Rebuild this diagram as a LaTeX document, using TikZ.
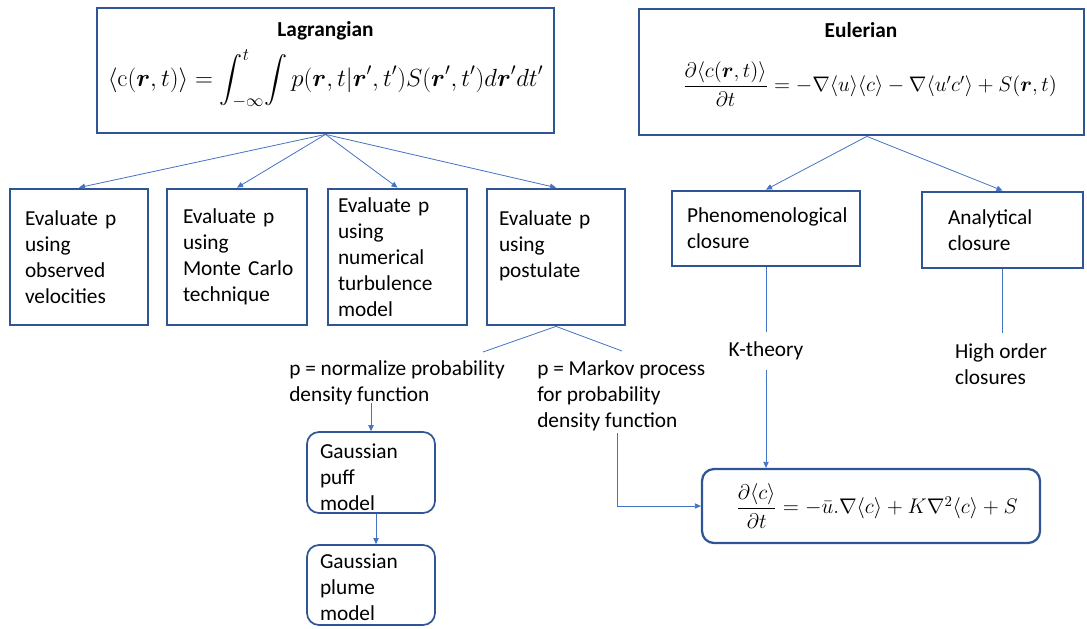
\RequirePackage{fix-cm}
\documentclass[tikz,border=0pt]{standalone}
\usepackage{amsmath}
\usepackage[no-math]{fontspec}
\setmainfont{Carlito}
\usetikzlibrary{arrows.meta,calc}
\definecolor{bordc}{HTML}{2F5597}
\definecolor{linec}{HTML}{4472C4}
\begin{document}
\begin{tikzpicture}[x=0.75pt,y=-0.75pt,
  font=\fontsize{16}{19.5}\selectfont,
  boxst/.style={draw=bordc, line width=2.1pt, inner ysep=0pt, align=left},
  rbox/.style={draw=bordc, line width=1.3pt, rounded corners=9pt, inner ysep=0pt, align=left},
  ln/.style={draw=linec, line width=0.6pt},
  arr/.style={ln, -{Triangle[length=4.5pt,width=4pt]}},
  lbl/.style={inner sep=0pt, align=left}]
\useasboundingbox (0,0) rectangle (1087,628);
% top boxes
\node[boxst, minimum width=342.75pt, minimum height=93.75pt] (lag) at (325.5,70.5) {};
\node[inner sep=0pt] (lagt) at (325.5,31) {\textbf{Lagrangian}};
\node[inner sep=0pt, font=\fontsize{18.6}{22}\selectfont] (lagf) at (325.5,79) {$\displaystyle \langle \mathrm{c}(\boldsymbol{r},t)\rangle = \int_{-\infty}^{t}\!\int p(\boldsymbol{r},t|\boldsymbol{r}',t')S(\boldsymbol{r}',t')d\boldsymbol{r}'dt'$};
\node[boxst, minimum width=333.75pt, minimum height=94.5pt] (eul) at (861.5,72) {};
\node[inner sep=0pt] (eult) at (861,30) {\textbf{Eulerian}};
\node[inner sep=0pt, font=\fontsize{15.8}{19}\selectfont] (eulf) at (870,84) {$\dfrac{\partial\langle c(\boldsymbol{r},t)\rangle}{\partial t} = -\nabla\langle u\rangle\langle c\rangle - \nabla\langle u'c'\rangle + S(\boldsymbol{r},t)$};
% second row
\node[boxst, minimum height=102pt, inner xsep=11.25pt, text width=81pt] (b1) at (79,257) {Evaluate p\\using\\observed\\velocities};
\node[boxst, minimum height=102pt, inner xsep=12pt, text width=81pt] (b2) at (237,257) {Evaluate p\\using\\Monte~Carlo\\technique};
\node[boxst, minimum height=102pt, inner xsep=7.5pt, text width=89.25pt] (b3) at (397.5,257) {Evaluate p\\using\\numerical\\turbulence\\model};
\node[boxst, minimum height=102pt, inner xsep=9pt, text width=85.5pt] (b4) at (556,257) {Evaluate p\\using\\postulate\\\mbox{}};
\node[boxst, minimum height=56.25pt, inner xsep=11.25pt, text width=118.5pt] (phen) at (766,228.5) {Phenomenological\\closure};
\node[boxst, minimum height=57pt, inner xsep=19.5pt, text width=81.75pt] (anal) at (1002.5,230) {Analytical\\closure};
% labels
\node[inner xsep=0pt, inner ysep=7.5pt] (kth) at (766,351) {K-theory};
\node[anchor=north, align=left, inner xsep=0pt, inner ysep=7.5pt] (hoc) at (1001,333) {High order\\closures};
\node[lbl, anchor=north west] (pnl) at (289,360) {p = normalize probability\\density function};
\node[lbl, anchor=north west] (pmk) at (537,360) {p = Markov process\\for probability\\density function};
% rounded boxes
\node[rbox, minimum height=60.75pt, inner xsep=9.75pt, text width=76.5pt] (puff) at (371,472.5) {\rule{0pt}{17.5pt}Gaussian\\puff\\model};
\node[rbox, minimum height=60pt, inner xsep=9.75pt, text width=76.5pt] (plume) at (371,585) {\rule{0pt}{14pt}Gaussian\\plume\\model};
\node[draw=bordc, line width=1.7pt, rounded corners=9pt, minimum width=253.5pt, minimum height=55.5pt, inner sep=0pt, font=\fontsize{15.9}{19}\selectfont] (fin) at (871,506) {\hspace*{9pt}$\dfrac{\partial\langle c\rangle}{\partial t} = -\bar{u}.\nabla\langle c\rangle + K\nabla^2\langle c\rangle + S$};
% free ends
\coordinate (c1) at (483,352);
\coordinate (c2) at (622,351);
\coordinate (c3) at (371,403);
\coordinate (c4) at (617,433);
% connectors
\draw[arr] (lag.south) -- (b1.north);
\draw[arr] (lag.south) -- (b2.north);
\draw[arr] (lag.south) -- (b3.north);
\draw[arr] (lag.south) -- (b4.north);
\draw[arr] ([xshift=4pt]eul.south) -- (phen.north);
\draw[arr] ([xshift=4pt]eul.south) -- (anal.north);
\draw[ln] (b4.south) -- (c1);
\draw[ln] (b4.south) -- (c2);
\draw[arr] (c3) -- (puff.north);
\draw[arr] ([xshift=3.75pt]puff.south) -- ([xshift=3.75pt]plume.north);
\draw[arr] (c4) |- (fin.west);
\draw[ln] (phen.south) -- (kth.north);
\draw[arr] (kth.south) -- (kth.south |- fin.north);
\draw[ln] (anal.south) -- (anal.south |- hoc.north);
\end{tikzpicture}
\end{document}
